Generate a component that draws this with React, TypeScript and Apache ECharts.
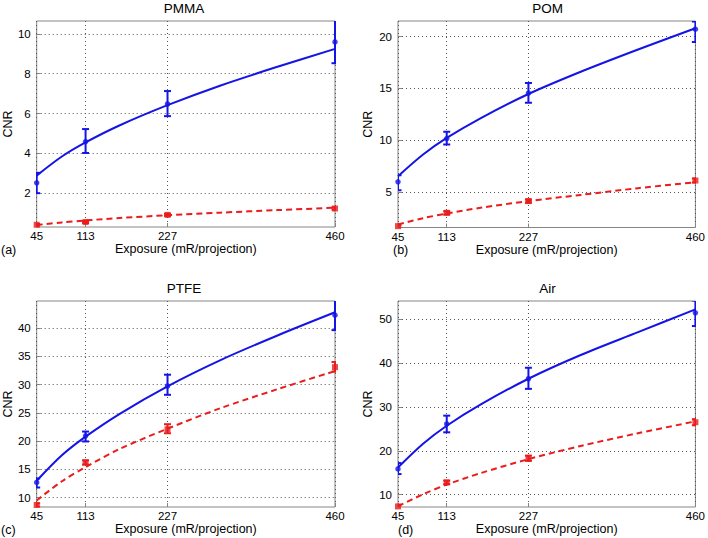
import React, { useEffect, useRef } from 'react';
import * as echarts from 'echarts';

// ---- data ----
const exposure = [45, 113, 227, 460];
const fitExposure = [45, 80, 113, 160, 227, 300, 380, 460];
const xTicks = [45, 113, 227, 460];

const titles = ['PMMA', 'POM', 'PTFE', 'Air'];
const panelLetters = ['(a)', '(b)', '(c)', '(d)'];

// PMMA
const pmmaBlueMean = [2.52, 4.59, 6.48, 9.6];
const pmmaBlueLow = [2.0, 4.02, 5.87, 8.53];
const pmmaBlueHigh = [3.02, 5.22, 7.13, 10.7];
const pmmaBlueFit = [2.88, 3.84, 4.55, 5.4, 6.42, 7.4, 8.35, 9.25];
const pmmaRedMean = [0.41, 0.55, 0.91, 1.23];
const pmmaRedLow = [0.37, 0.5, 0.86, 1.17];
const pmmaRedHigh = [0.45, 0.6, 0.96, 1.29];
const pmmaRedFit = [0.4, 0.53, 0.63, 0.75, 0.89, 1.02, 1.15, 1.27];
const pmmaYTicks = [2, 4, 6, 8, 10];
const pmmaYRange = [0.3, 10.65];

// POM
const pomBlueMean = [5.96, 10.14, 14.54, 20.71];
const pomBlueLow = [5.15, 9.56, 13.6, 19.46];
const pomBlueHigh = [6.6, 10.8, 15.5, 21.45];
const pomBlueFit = [6.5, 8.6, 10.2, 12.1, 14.45, 16.6, 18.75, 20.8];
const pomRedMean = [1.68, 2.97, 4.1, 6.09];
const pomRedLow = [1.55, 2.8, 3.95, 5.9];
const pomRedHigh = [1.8, 3.12, 4.25, 6.28];
const pomRedFit = [1.85, 2.45, 2.9, 3.45, 4.1, 4.7, 5.35, 5.92];
const pomYTicks = [5, 10, 15, 20];
const pomYRange = [1.55, 21.5];

// PTFE
const ptfeBlueMean = [12.7, 20.94, 29.76, 42.3];
const ptfeBlueLow = [11.8, 19.95, 28.2, 39.65];
const ptfeBlueHigh = [13.4, 21.7, 31.76, 45];
const ptfeBlueFit = [13.0, 17.5, 20.8, 24.8, 29.7, 34.3, 38.7, 42.8];
const ptfeRedMean = [8.7, 16.24, 22.1, 33.1];
const ptfeRedLow = [8.4, 15.85, 21.4, 32.3];
const ptfeRedHigh = [9.0, 16.6, 23.0, 34.0];
const ptfeRedFit = [9.5, 12.9, 15.4, 18.6, 22.2, 25.8, 29.2, 32.4];
const ptfeYTicks = [10, 15, 20, 25, 30, 35, 40];
const ptfeYRange = [8.35, 44.8];

// Air
const airBlueMean = [15.86, 26.1, 36.4, 51.4];
const airBlueLow = [14.7, 24.2, 34.1, 48.4];
const airBlueHigh = [17.2, 28.0, 38.9, 54.2];
const airBlueFit = [16.2, 21.6, 25.7, 30.5, 36.4, 41.8, 47.0, 52.2];
const airRedMean = [7.33, 12.8, 18.3, 26.5];
const airRedLow = [7.0, 12.4, 17.7, 25.8];
const airRedHigh = [7.6, 13.2, 18.9, 27.2];
const airRedFit = [7.4, 10.1, 12.3, 14.9, 18.1, 21.1, 24.0, 26.7];
const airYTicks = [10, 20, 30, 40, 50];
const airYRange = [7.2, 54.1];

const yLabel = 'CNR';
const xLabel = 'Exposure (mR/projection)';

const panels = [
  { bm: pmmaBlueMean, bl: pmmaBlueLow, bh: pmmaBlueHigh, bf: pmmaBlueFit, rm: pmmaRedMean, rl: pmmaRedLow, rh: pmmaRedHigh, rf: pmmaRedFit, yt: pmmaYTicks, yr: pmmaYRange },
  { bm: pomBlueMean, bl: pomBlueLow, bh: pomBlueHigh, bf: pomBlueFit, rm: pomRedMean, rl: pomRedLow, rh: pomRedHigh, rf: pomRedFit, yt: pomYTicks, yr: pomYRange },
  { bm: ptfeBlueMean, bl: ptfeBlueLow, bh: ptfeBlueHigh, bf: ptfeBlueFit, rm: ptfeRedMean, rl: ptfeRedLow, rh: ptfeRedHigh, rf: ptfeRedFit, yt: ptfeYTicks, yr: ptfeYRange },
  { bm: airBlueMean, bl: airBlueLow, bh: airBlueHigh, bf: airBlueFit, rm: airRedMean, rl: airRedLow, rh: airRedHigh, rf: airRedFit, yt: airYTicks, yr: airYRange },
];

// ---- layout / style ----
const FONT = "'Liberation Sans', Arial, Helvetica, sans-serif";
const BLUE = '#1414e6';
const RED = '#ea1c1c';
const FRAME = '#858585';
const GRIDLINE = '#555555';

const gridRects = [
  { left: 33, top: 21, width: 302, height: 206 },
  { left: 398, top: 21, width: 299, height: 206.5 },
  { left: 33, top: 301, width: 302, height: 206 },
  { left: 398, top: 301, width: 299, height: 206 },
];
const letterX = [1, 393, 1, 398];

function errorBarSeries(i: number, data: number[][], color: string) {
  return {
    type: 'custom',
    xAxisIndex: i,
    yAxisIndex: i,
    clip: true,
    data,
    encode: { x: 0, y: [1, 2] },
    z: 3,
    renderItem: (params: any, api: any) => {
      const x = api.value(0);
      const lo = api.value(1);
      const hi = api.value(2);
      const top = api.coord([x, hi]);
      const bot = api.coord([x, lo]);
      const hw = 3.5;
      const style = { stroke: color, lineWidth: 2 };
      return {
        type: 'group',
        children: [
          { type: 'line', shape: { x1: top[0], y1: top[1], x2: bot[0], y2: bot[1] }, style },
          { type: 'line', shape: { x1: top[0] - hw, y1: top[1], x2: top[0] + hw, y2: top[1] }, style },
          { type: 'line', shape: { x1: bot[0] - hw, y1: bot[1], x2: bot[0] + hw, y2: bot[1] }, style },
        ],
      };
    },
  };
}

function buildOption() {
  const grid: any[] = [];
  const xAxis: any[] = [];
  const yAxis: any[] = [];
  const series: any[] = [];
  const title: any[] = [];
  const graphic: any[] = [];

  panels.forEach((p, i) => {
    const g = gridRects[i];
    grid.push({ ...g, show: true, borderColor: FRAME, borderWidth: 1, backgroundColor: 'transparent' });
    const dotted = { show: true, lineStyle: { color: GRIDLINE, type: [1, 3], width: 1 } };
    xAxis.push({
      type: 'value',
      gridIndex: i,
      min: 45,
      max: 460,
      axisLine: { show: false },
      axisTick: { show: true, inside: true, length: 4, customValues: xTicks, lineStyle: { color: FRAME } },
      axisLabel: { customValues: xTicks, color: '#000', fontSize: 11.5, margin: 3, fontFamily: FONT },
      splitLine: dotted,
      name: xLabel,
      nameLocation: 'middle',
      nameGap: 15,
      nameTextStyle: { color: '#000', fontSize: 12.5, fontFamily: FONT },
    });
    yAxis.push({
      type: 'value',
      gridIndex: i,
      min: p.yr[0],
      max: p.yr[1],
      axisLine: { show: false },
      axisTick: { show: true, inside: true, length: 4, customValues: p.yt, lineStyle: { color: FRAME } },
      axisLabel: { customValues: p.yt, color: '#000', fontSize: 11.5, margin: 6, fontFamily: FONT },
      splitLine: dotted,
      name: yLabel,
      nameLocation: 'middle',
      nameGap: i % 2 === 0 ? 20 : 24,
      nameTextStyle: { color: '#000', fontSize: 12.5, fontFamily: FONT },
    });
    title.push({
      text: titles[i],
      left: g.left + g.width / 2,
      top: g.top - 20,
      textAlign: 'center',
      padding: 0,
      textStyle: { color: '#000', fontSize: 13.5, fontWeight: 'normal', fontFamily: FONT },
    });
    graphic.push({
      type: 'text',
      left: letterX[i],
      top: g.top + g.height + 16,
      style: { text: panelLetters[i], fill: '#000', font: `12.5px ${FONT}` },
    });

    series.push({
      type: 'line',
      xAxisIndex: i,
      yAxisIndex: i,
      data: fitExposure.map((x, j) => [x, p.rf[j]]),
      smooth: 0.3,
      symbol: 'none',
      lineStyle: { color: RED, width: 2, type: [6, 4] },
      z: 2,
    });
    series.push({
      type: 'line',
      xAxisIndex: i,
      yAxisIndex: i,
      data: fitExposure.map((x, j) => [x, p.bf[j]]),
      smooth: 0.3,
      symbol: 'none',
      lineStyle: { color: BLUE, width: 2 },
      z: 2,
    });
    series.push(errorBarSeries(i, exposure.map((x, j) => [x, p.rl[j], p.rh[j]]), RED));
    series.push(errorBarSeries(i, exposure.map((x, j) => [x, p.bl[j], p.bh[j]]), BLUE));
    series.push({
      type: 'scatter',
      xAxisIndex: i,
      yAxisIndex: i,
      data: exposure.map((x, j) => [x, p.rm[j]]),
      symbol: 'rect',
      symbolSize: 6,
      itemStyle: { color: RED },
      clip: false,
      z: 4,
    });
    series.push({
      type: 'scatter',
      xAxisIndex: i,
      yAxisIndex: i,
      data: exposure.map((x, j) => [x, p.bm[j]]),
      symbol: 'circle',
      symbolSize: 5.5,
      itemStyle: { color: BLUE },
      clip: false,
      z: 4,
    });
  });

  return {
    animation: false,
    backgroundColor: '#fff',
    textStyle: { fontFamily: FONT },
    title,
    grid,
    xAxis,
    yAxis,
    series,
    graphic,
  };
}

export default function App() {
  const ref = useRef<HTMLDivElement>(null);
  useEffect(() => {
    if (!ref.current) return;
    const chart = echarts.init(ref.current, undefined, { renderer: 'svg' });
    chart.setOption(buildOption() as any);
    return () => chart.dispose();
  }, []);
  return (
    <div
      ref={ref}
      style={{ position: 'absolute', left: 0, top: 0, width: 708, height: 538, background: '#fff' }}
    />
  );
}
